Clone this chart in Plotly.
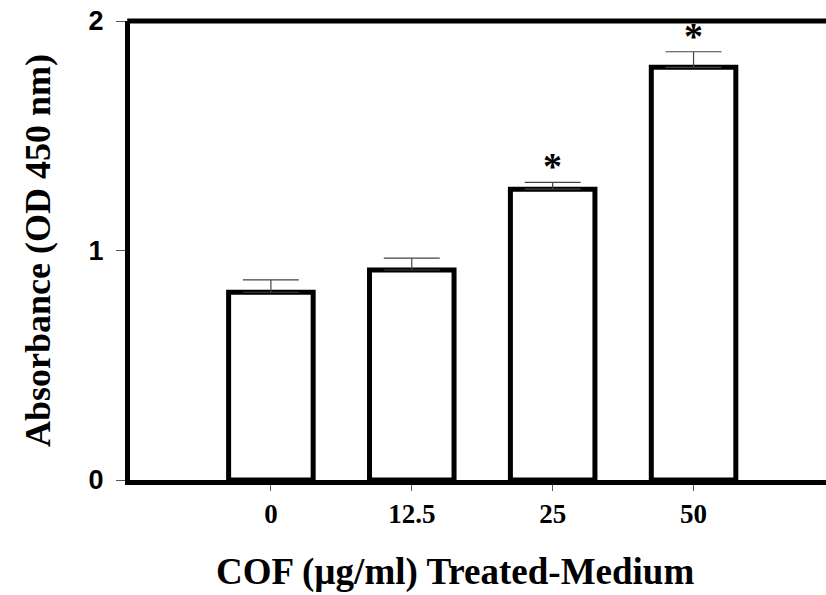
import plotly.graph_objects as go

categories = ["0", "12.5", "25", "50"]
absorbance = [0.818, 0.915, 1.267, 1.798]
error_up = [0.054, 0.052, 0.030, 0.068]
significant = ["", "", "*", "*"]

x_title = "COF (µg/ml) Treated-Medium"
y_title = "Absorbance (OD 450 nm)"
y_ticks = [0, 1, 2]

serif = "Liberation Serif, Times New Roman, serif"
sans = "Liberation Sans, Arial, sans-serif"

fig = go.Figure()
fig.add_trace(go.Bar(
    x=list(range(len(categories))),
    y=absorbance,
    width=0.6,
    marker=dict(color="white", line=dict(color="black", width=5)),
    error_y=dict(type="data", array=error_up, arrayminus=[0] * len(error_up),
                 symmetric=False, color="#444444", thickness=1.2, width=28),
    showlegend=False,
))

for i, s in enumerate(significant):
    if s:
        fig.add_annotation(x=i, y=absorbance[i] + error_up[i], text=s,
                           showarrow=False, yanchor="middle", yshift=16,
                           font=dict(family=serif, size=38, color="black", weight="bold"))

# x-axis title as an annotation (it sits left of the plot-area centre)
fig.add_annotation(xref="paper", yref="paper", x=0.467, y=0, xanchor="center",
                   yanchor="middle", yshift=-92, text=x_title, showarrow=False,
                   font=dict(family=serif, size=37, color="black", weight="bold"))

# top frame line
fig.add_shape(type="line", xref="paper", yref="paper", x0=-0.004, x1=1, y0=1, y1=1,
              line=dict(color="black", width=5), layer="above")

fig.update_layout(
    width=826, height=595,
    margin=dict(l=130, r=0, t=21, b=115),
    paper_bgcolor="white", plot_bgcolor="white",
)
fig.update_xaxes(
    range=[-1, 3.94], automargin=False,
    tickmode="array", tickvals=list(range(len(categories))), ticktext=categories,
    ticks="outside", ticklen=6, tickwidth=1, tickcolor="#555555",
    showline=True, linecolor="black", linewidth=5, mirror=False,
    showgrid=False, zeroline=False,
    tickfont=dict(family=serif, size=27, color="black", weight="bold"),
    ticklabelstandoff=0,
)
fig.update_yaxes(
    range=[0, 2], automargin=False,
    tickmode="array", tickvals=y_ticks,
    ticks="outside", ticklen=9, tickwidth=1, tickcolor="#555555",
    showline=True, linecolor="black", linewidth=5, mirror=False,
    showgrid=False, zeroline=False,
    tickfont=dict(family=sans, size=27, color="black", weight="bold"),
    ticklabelstandoff=7,
    title=dict(text=y_title, standoff=28,
               font=dict(family=serif, size=36, color="black", weight="bold")),
)

fig.write_html("out.html", config={"displayModeBar": False},
               post_script="document.body.style.margin='0';document.body.style.overflow='hidden';")
